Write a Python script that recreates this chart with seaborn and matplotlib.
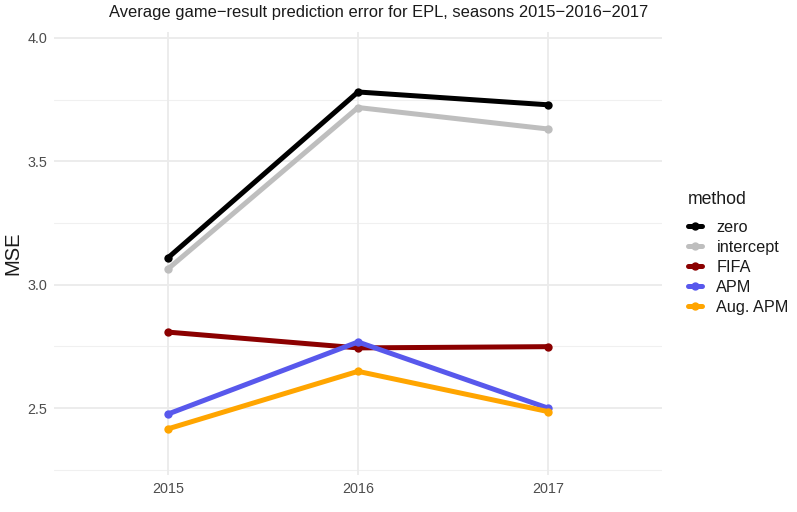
import matplotlib

matplotlib.use("Agg")
import matplotlib.pyplot as plt
import pandas as pd
import seaborn as sns

# values
seasons = [2015, 2016, 2017]
methods = ["zero", "intercept", "FIFA", "APM", "Aug. APM"]
mse_zero = [3.109, 3.781, 3.729]
mse_intercept = [3.064, 3.718, 3.631]
mse_fifa = [2.808, 2.744, 2.749]
mse_apm = [2.476, 2.768, 2.500]
mse_aug_apm = [2.416, 2.649, 2.486]

PALETTE = {
    "zero": "#000000",
    "intercept": "#BEBEBE",
    "FIFA": "#8B0000",
    "APM": "#5858EC",
    "Aug. APM": "#FFA500",
}

sns.set_theme(style="white")
plt.rcParams["font.family"] = ["Liberation Sans", "DejaVu Sans"]

series = [mse_zero, mse_intercept, mse_fifa, mse_apm, mse_aug_apm]
df = pd.concat(
    [pd.DataFrame({"season": seasons, "MSE": vals, "method": m}) for m, vals in zip(methods, series)],
    ignore_index=True,
)

W, H = 797, 512
fig = plt.figure(figsize=(W / 100, H / 100), dpi=100)
ax = fig.add_axes([54 / W, 1 - 475 / H, (662 - 54) / W, (475 - 32) / H])

# grid like ggplot theme_minimal
for y in [2.25, 2.75, 3.25, 3.75]:
    ax.axhline(y, color="#F0F0F0", linewidth=0.8, zorder=0)
for y in [2.5, 3.0, 3.5, 4.0]:
    ax.axhline(y, color="#EBEBEB", linewidth=1.3, zorder=0)
for x in seasons:
    ax.axvline(x, color="#EBEBEB", linewidth=1.3, zorder=0)

sns.lineplot(
    data=df, x="season", y="MSE", hue="method", hue_order=methods,
    palette=PALETTE, marker="o", markersize=6, markeredgewidth=0,
    linewidth=3.6, ax=ax, zorder=3,
)

ax.set_xlim(2014.4, 2017.6)
ax.set_ylim(2.229, 4.024)
ax.set_xticks(seasons)
ax.set_xticklabels([str(s) for s in seasons])
ax.set_yticks([2.5, 3.0, 3.5, 4.0])
ax.set_yticklabels(["2.5", "3.0", "3.5", "4.0"])
ax.tick_params(axis="both", length=0, labelsize=10.4, colors="#4D4D4D", pad=5)
ax.grid(False)
for s in ax.spines.values():
    s.set_visible(False)
ax.set_xlabel("")
ax.set_ylabel("")
fig.text(13 / W, 1 - 253 / H, "MSE", rotation=90, ha="center", va="center",
         fontsize=14.5, color="#1A1A1A")

fig.text(379 / W, 1 - 12 / H, "Average game\u2212result prediction error for EPL, seasons 2015\u22122016\u22122017",
         ha="center", va="center", fontsize=11.9, color="#1A1A1A")

handles, labels = ax.get_legend_handles_labels()
ax.get_legend().remove()
fig.text(688 / W, 1 - 199 / H, "method", ha="left", va="center", fontsize=12.7, color="#1A1A1A")
leg = fig.legend(
    handles, labels, loc="upper left", bbox_to_anchor=(688 / W, 1 - 220 / H),
    frameon=False, fontsize=11.7, borderpad=0, borderaxespad=0,
    handlelength=0.85, handletextpad=0.9, labelspacing=0.31,
)
for t in leg.get_texts():
    t.set_color("#1A1A1A")

fig.savefig("out.png", dpi=100)
